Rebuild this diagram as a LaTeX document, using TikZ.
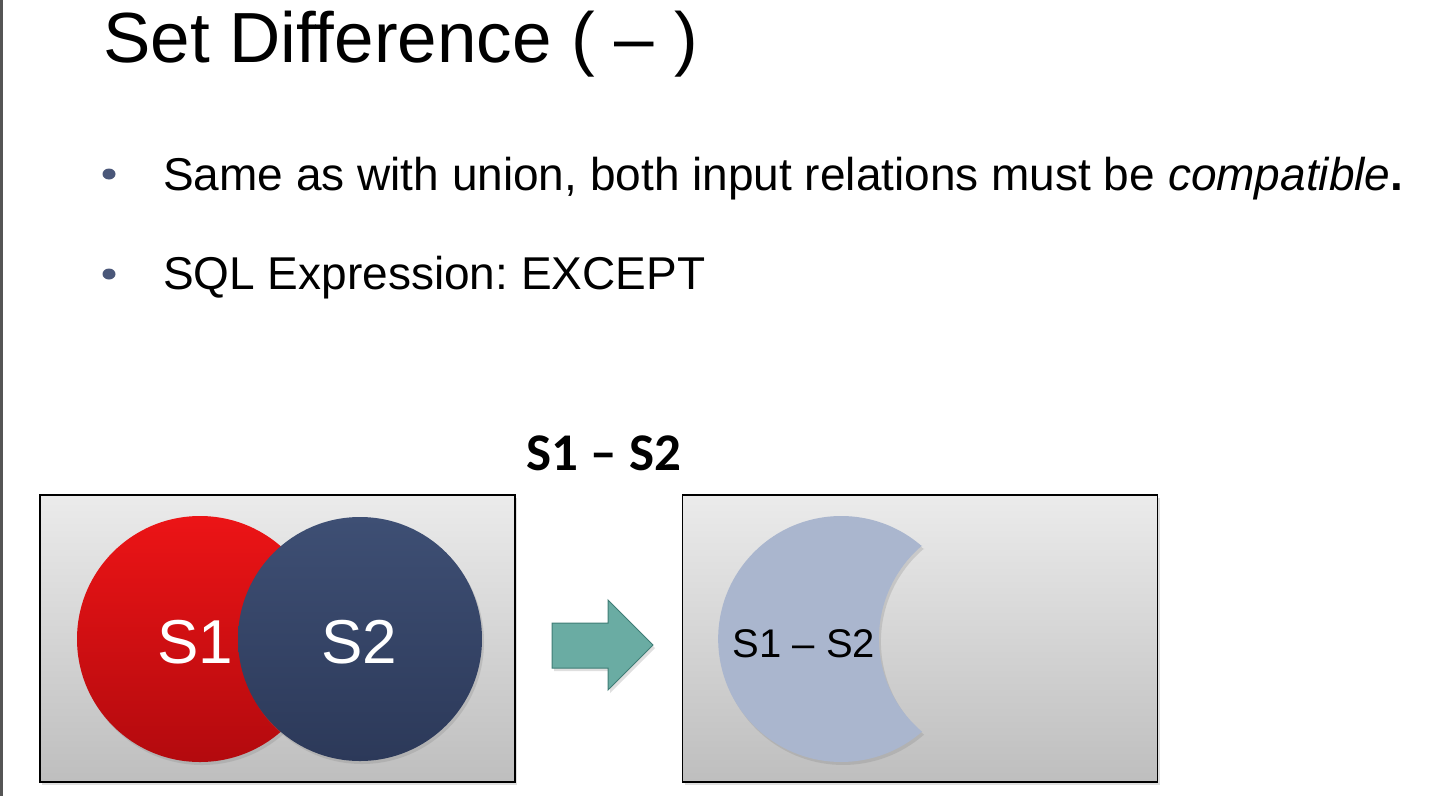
\documentclass[tikz,border=0pt]{standalone}
\usepackage{fontspec}
\setmainfont{Liberation Sans}
\newfontfamily\carlito{Carlito}
\usetikzlibrary{shadows,shapes.geometric}
\frenchspacing
\definecolor{edgeline}{HTML}{555555}
\definecolor{bulletc}{HTML}{4A5779}
\definecolor{boxtop}{HTML}{EBEBEB}
\definecolor{boxbot}{HTML}{BEBEBE}
\definecolor{redtop}{HTML}{EC1416}
\definecolor{redbot}{HTML}{B30A0E}
\definecolor{navytop}{HTML}{3E4F74}
\definecolor{navybot}{HTML}{2C3959}
\definecolor{tealfill}{HTML}{6AACA3}
\definecolor{tealdraw}{HTML}{3F7D76}
\definecolor{crescentc}{HTML}{AAB6CE}
\tikzset{
  softshadow/.style={drop shadow={opacity=0.25, shadow xshift=2pt, shadow yshift=-3pt}},
  panel/.style={draw=black, line width=1.5pt, top color=boxtop, bottom color=boxbot,
    inner sep=0, minimum width=475, minimum height=287, softshadow},
  setdisc/.style={circle, inner sep=0, softshadow},
  bulletdot/.style={ellipse, fill=bulletc, inner sep=0, minimum width=13, minimum height=11},
  bodytext/.style={anchor=base west, inner sep=0, font=\fontsize{46}{54}\selectfont},
  disctext/.style={anchor=base, inner sep=0, text=white, font=\fontsize{62}{70}\selectfont},
}
\begin{document}
\begin{tikzpicture}[x=1pt,y=1pt]
\useasboundingbox (0,0) rectangle (1440,-796);
\fill[white] (0,0) rectangle (1440,-796);
\draw[line width=2.5pt, edgeline] (1.5,0) -- (1.5,-796);

\node[anchor=base west, inner sep=0, font=\fontsize{71}{80}\selectfont] (title) at (103,-62) {Set Difference ( – )};

\node[bulletdot] (b1) at (109,-174) {};
\node[bodytext] (l1) at (163,-190) {Same as with union, both input relations must be \textit{compatible}\textbf{.}};
\node[bulletdot] (b2) at (109,-274) {};
\node[bodytext] (l2) at (163,-289) {SQL Expression: EXCEPT};

\node[anchor=base, inner sep=0, font=\carlito\bfseries\fontsize{53}{60}\selectfont] (hdr) at (604,-470) {S1 – S2};

% left panel
\node[panel] (lbox) at (277.5,-638.5) {};
\node[setdisc, minimum size=246, top color=redtop, bottom color=redbot] (s1) at (200,-639) {};
\node[setdisc, minimum size=244, top color=navytop, bottom color=navybot] (s2) at (360,-639) {};
\node[disctext] (t1) at (195,-663) {S1};
\node[disctext] (t2) at (359,-663) {S2};

% arrow
\draw[fill=tealfill, draw=tealdraw, line width=1pt, line join=miter, softshadow]
  (552,-623) -- (608,-623) -- (608,-600) -- (653,-645) -- (608,-690) -- (608,-668) -- (552,-668) -- cycle;

% right panel
\node[panel] (rbox) at (920,-638.5) {};
\fill[crescentc, softshadow] (922,-546.3) arc[start angle=48.9, end angle=311.1, radius=123]
  arc[start angle=229.7, end angle=130.3, radius=122] -- cycle;
\node[anchor=base, inner sep=0, font=\fontsize{40}{48}\selectfont] (t3) at (804,-657) {S1 – S2};
\end{tikzpicture}
\end{document}
